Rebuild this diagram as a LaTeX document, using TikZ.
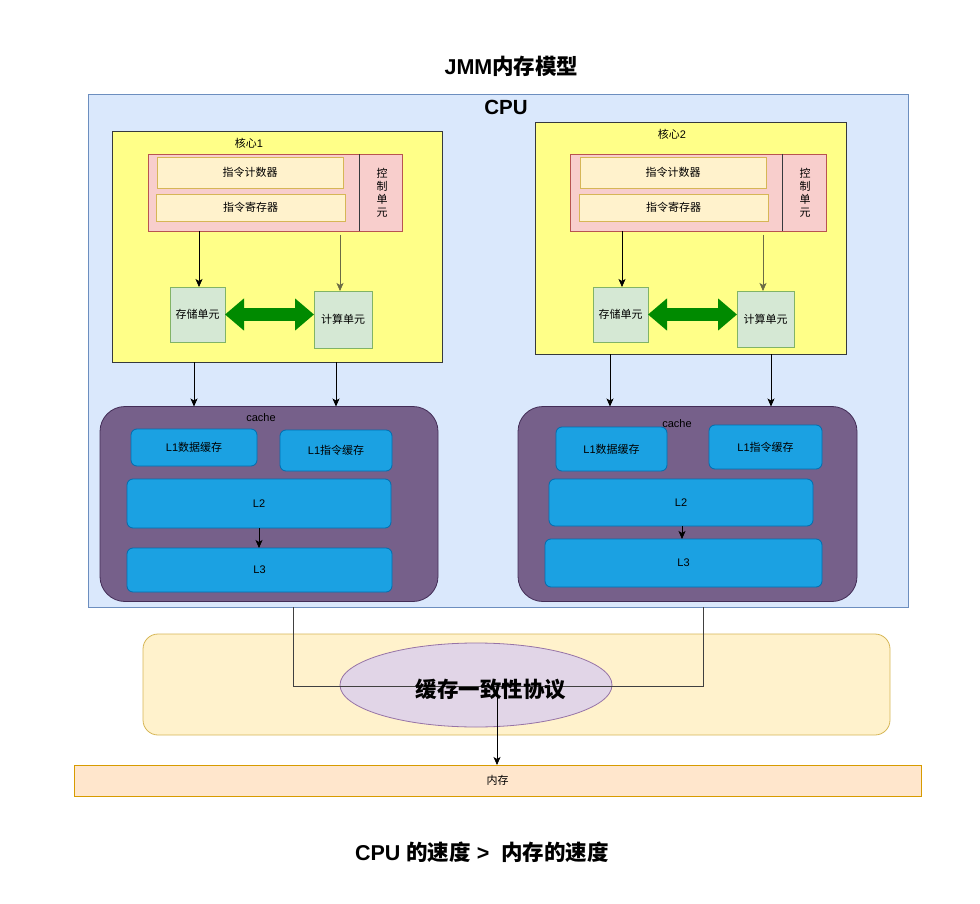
\documentclass[tikz,border=0pt]{standalone}
\usepackage{fontspec}
\setmainfont{Noto Sans CJK SC}
\newfontfamily\lat{Liberation Sans}
\usetikzlibrary{arrows.meta,shapes.geometric}
\definecolor{cpuF}{HTML}{DAE8FC}\definecolor{cpuD}{HTML}{6C8EBF}
\definecolor{coreF}{HTML}{FFFF88}\definecolor{coreD}{HTML}{36393D}
\definecolor{ctlF}{HTML}{F8CECC}\definecolor{ctlD}{HTML}{B85450}
\definecolor{regF}{HTML}{FFF2CC}\definecolor{regD}{HTML}{D6B656}
\definecolor{unitF}{HTML}{D5E8D4}\definecolor{unitD}{HTML}{82B366}
\definecolor{cacheF}{HTML}{76608A}\definecolor{cacheD}{HTML}{432D57}
\definecolor{lF}{HTML}{1BA1E2}\definecolor{lD}{HTML}{006EAF}
\definecolor{gArrow}{HTML}{008A00}
\definecolor{ellF}{HTML}{E1D5E7}\definecolor{ellD}{HTML}{9673A6}
\definecolor{memF}{HTML}{FFE6CC}\definecolor{memD}{HTML}{D79B00}
\definecolor{olive}{HTML}{6B6B45}
\begin{document}
\begin{tikzpicture}[x=1pt,y=-1pt,
  base/.style={inner sep=0pt,outer sep=0pt,line width=0.8pt,font=\fontsize{11}{13}\selectfont},
  cpubox/.style={base,draw=cpuD,fill=cpuF},
  corebox/.style={base,draw=coreD,fill=coreF},
  ctlbox/.style={base,draw=ctlD,fill=ctlF},
  regbox/.style={base,draw=regD,fill=regF},
  unitbox/.style={base,draw=unitD,fill=unitF},
  cachebox/.style={base,draw=cacheD,fill=cacheF,rounded corners=25pt},
  lbox/.style={base,draw=lD,fill=lF,rounded corners=6pt},
  lbl/.style={base,text=black},
  big/.style={inner sep=0pt,font=\fontsize{21.5}{24}\selectfont\bfseries},
  arr/.style={-{Stealth[length=8pt,width=7pt,inset=2pt]},line width=0.7pt},
  garr/.style={line width=12.5pt,color=gArrow,{Triangle[length=19pt,width=31pt]}-{Triangle[length=19pt,width=31pt]}}
]
\useasboundingbox (0,0) rectangle (980,904);

\node[big] (title) at (511.5,66) {{\lat JMM}内存模型};

\node[cpubox,minimum width=820pt,minimum height=513pt] (cpu) at (498,350.5) {};
\node[big,font=\fontsize{20.5}{24}\selectfont\bfseries] (cpulbl) at (506,107) {\lat CPU};

% ---------- core 1 ----------
\node[corebox,minimum width=330pt,minimum height=231pt] (core1) at (277,246.5) {};
\node[lbl] (core1lbl) at (249,143) {核心{\lat 1}};
\node[ctlbox,minimum width=254pt,minimum height=77pt] (ctl1) at (275,192.5) {};
\draw[line width=0.8pt,color=coreD] (359,0 |- ctl1.north) -- (359,0 |- ctl1.south);
\node[lbl,align=center,font=\fontsize{11}{13}\selectfont] (ctl1lbl) at (382,193) {控\\制\\单\\元};
\node[regbox,minimum width=186pt,minimum height=31pt] (pc1) at (250,172.5) {指令计数器};
\node[regbox,minimum width=189pt,minimum height=27pt] (ir1) at (250.5,207.5) {指令寄存器};
\node[unitbox,minimum width=55pt,minimum height=55pt] (st1) at (197.5,314.5) {存储单元};
\node[unitbox,minimum width=58pt,minimum height=57pt] (ca1) at (343,319.5) {计算单元};
\draw[arr] (199,0 |- ctl1.south) -- (199,0 |- st1.north);
\draw[arr,color=olive] (340,235) -- (340,0 |- ca1.north);
\draw[garr] (st1.east) -- (st1.east -| ca1.west);

% ---------- core 2 ----------
\node[corebox,minimum width=311pt,minimum height=232pt] (core2) at (690.5,238) {};
\node[lbl] (core2lbl) at (672,134) {核心{\lat 2}};
\node[ctlbox,minimum width=256pt,minimum height=77pt] (ctl2) at (698,192.5) {};
\draw[line width=0.8pt,color=coreD] (782,0 |- ctl2.north) -- (782,0 |- ctl2.south);
\node[lbl,align=center,font=\fontsize{11}{13}\selectfont] (ctl2lbl) at (805,193) {控\\制\\单\\元};
\node[regbox,minimum width=186pt,minimum height=31pt] (pc2) at (673,172.5) {指令计数器};
\node[regbox,minimum width=189pt,minimum height=27pt] (ir2) at (673.5,207.5) {指令寄存器};
\node[unitbox,minimum width=55pt,minimum height=55pt] (st2) at (620.5,314.5) {存储单元};
\node[unitbox,minimum width=57pt,minimum height=56pt] (ca2) at (765.5,319) {计算单元};
\draw[arr] (622,0 |- ctl2.south) -- (622,0 |- st2.north);
\draw[arr,color=olive] (763,235) -- (763,0 |- ca2.north);
\draw[garr] (st2.east) -- (st2.east -| ca2.west);

% ---------- cache 1 ----------
\node[cachebox,minimum width=338pt,minimum height=195pt] (cache1) at (269,504) {};
\node[lbox,minimum width=126pt,minimum height=37pt] (l1d1) at (194,447.5) {{\lat L1}数据缓存};
\node[lbox,minimum width=112pt,minimum height=41pt] (l1i1) at (336,450.5) {{\lat L1}指令缓存};
\node[lbox,minimum width=264pt,minimum height=49pt] (l21) at (259,503.5) {\lat L2};
\node[lbox,minimum width=265pt,minimum height=44pt] (l31) at (259.5,570) {\lat L3};
\node[lbl] (cache1lbl) at (261,418) {\lat cache};
\draw[arr] (l21.south) -- (l21.south |- l31.north);
\draw[arr] (194,0 |- core1.south) -- (194,0 |- cache1.north);
\draw[arr] (336,0 |- core1.south) -- (336,0 |- cache1.north);

% ---------- cache 2 ----------
\node[cachebox,minimum width=339pt,minimum height=195pt] (cache2) at (687.5,504) {};
\node[lbox,minimum width=111pt,minimum height=44pt] (l1d2) at (611.5,449) {{\lat L1}数据缓存};
\node[lbox,minimum width=113pt,minimum height=44pt] (l1i2) at (765.5,447) {{\lat L1}指令缓存};
\node[lbox,minimum width=264pt,minimum height=47pt] (l22) at (681,502.5) {\lat L2};
\node[lbox,minimum width=277pt,minimum height=48pt] (l32) at (683.5,563) {\lat L3};
\node[lbl] (cache2lbl) at (677,424) {\lat cache};
\draw[arr] (682,0 |- l22.south) -- (682,0 |- l32.north);
\draw[arr] (610,0 |- core2.south) -- (610,0 |- cache2.north);
\draw[arr] (771,0 |- core2.south) -- (771,0 |- cache2.north);

% ---------- bottom ----------
\node[base,draw=regD,fill=regF,rounded corners=15pt,minimum width=747pt,minimum height=101pt] (band) at (516.5,684.5) {};
\node[base,ellipse,draw=ellD,fill=ellF,minimum width=272pt,minimum height=84pt] (coh) at (476,685) {};
\node[base,draw=memD,fill=memF,minimum width=847pt,minimum height=31pt] (mem) at (497.5,780.5) {内存};
\coordinate (join) at (497,686);
\draw[line width=0.8pt,color=black!75] (293,0 |- cpu.south) -- (293,686) -- (703,686) -- (703,0 |- cpu.south);
\draw[arr] (join) -- (join |- mem.north);
\node[inner sep=0pt,font=\fontsize{21.5}{24}\selectfont\bfseries] (cohlbl) at (491,689) {缓存一致性协议};

\node[big] (speed) at (482,852) {{\lat CPU }的速度{\lat\ >\ \ }内存的速度};
\end{tikzpicture}
\end{document}
